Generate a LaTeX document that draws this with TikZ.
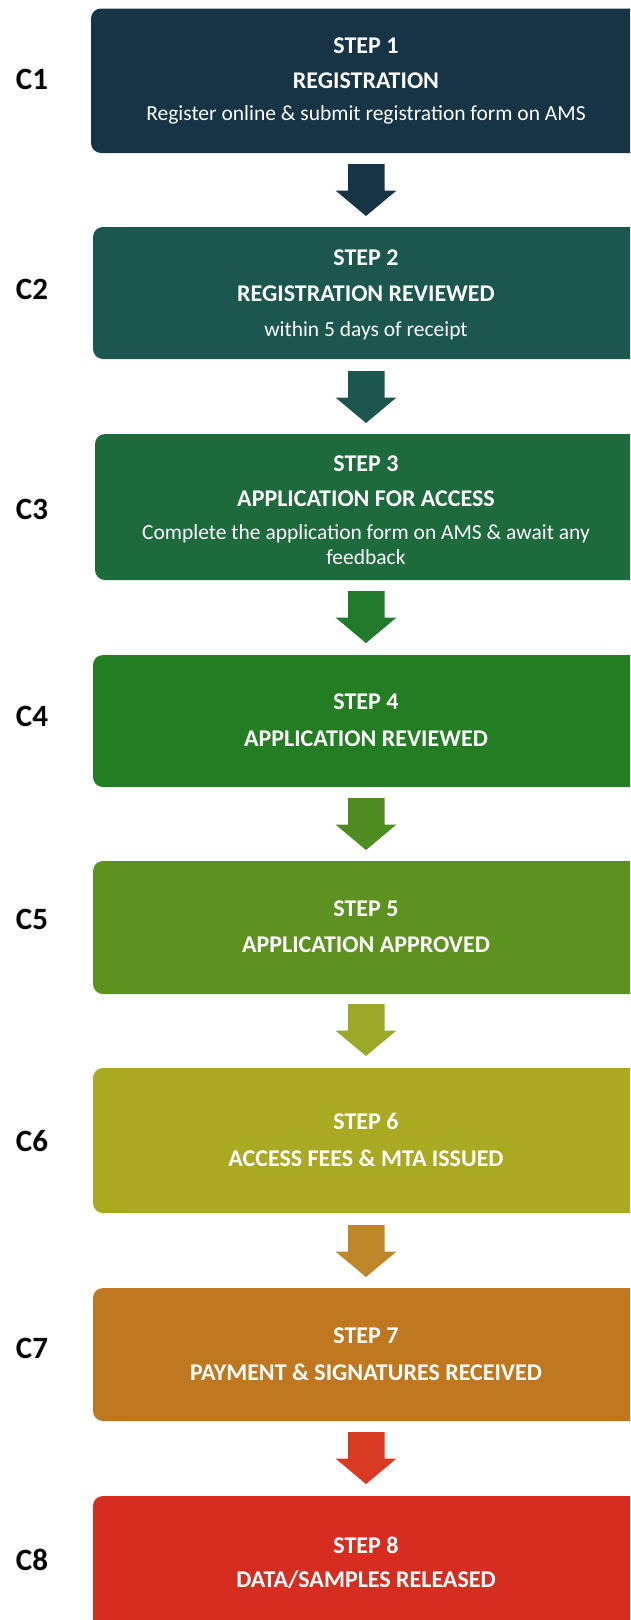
\documentclass[tikz,border=0pt]{standalone}
\usepackage{fontspec}
\setmainfont{Carlito}
\definecolor{c1}{HTML}{173446}
\definecolor{c2}{HTML}{1B574F}
\definecolor{c3}{HTML}{1D6A3D}
\definecolor{c4}{HTML}{237D22}
\definecolor{c5}{HTML}{5E9220}
\definecolor{c6}{HTML}{A9A922}
\definecolor{c7}{HTML}{C07820}
\definecolor{c8}{HTML}{D62D20}
\definecolor{a3}{HTML}{217A2C}
\definecolor{a4}{HTML}{4E8C22}
\definecolor{a5}{HTML}{9AAA28}
\definecolor{a6}{HTML}{C0872A}
\definecolor{a7}{HTML}{D93A22}
\tikzset{
  stepbox/.style={rounded corners=10pt},
  steptitle/.style={text=white, font=\fontsize{24}{28}\selectfont\bfseries, anchor=center, inner sep=0pt},
  stepsub/.style={text=white, font=\fontsize{21.5}{25}\selectfont, anchor=center, inner sep=0pt},
  clabel/.style={text=black, font=\fontsize{31}{36}\selectfont\bfseries, anchor=center, inner sep=0pt},
}
\newcommand{\flowarrow}[3]{% color, top y, name
  \fill[#1] (348,-#2) -- (384.5,-#2) -- (384.5,-#2-26.5) -- (396.5,-#2-26.5)
    -- (366,-#2-52) -- (335.5,-#2-26.5) -- (348,-#2-26.5) -- cycle;
  \coordinate (#3) at (366,-#2);
}
\begin{document}
\begin{tikzpicture}[x=1pt,y=1pt]
\useasboundingbox (0,0) rectangle (630,-1620);
\clip (0,0) rectangle (630,-1620);
% boxes
\fill[c1,stepbox] (91,-8.5) rectangle (660,-153);
\fill[c2,stepbox] (93,-227) rectangle (660,-359);
\fill[c3,stepbox] (95,-434) rectangle (660,-580);
\fill[c4,stepbox] (93,-655) rectangle (660,-787);
\fill[c5,stepbox] (93,-861) rectangle (660,-994);
\fill[c6,stepbox] (93,-1068) rectangle (660,-1213);
\fill[c7,stepbox] (93,-1288) rectangle (660,-1421);
\fill[c8,stepbox] (93,-1496) rectangle (660,-1660);
% arrows
\flowarrow{c1}{164}{ar1}
\flowarrow{c2}{371}{ar2}
\flowarrow{a3}{591}{ar3}
\flowarrow{a4}{798}{ar4}
\flowarrow{a5}{1004}{ar5}
\flowarrow{a6}{1225}{ar6}
\flowarrow{a7}{1432}{ar7}
% texts
\node[steptitle] (s1a) at (366,-46) {STEP 1};
\node[steptitle] (s1b) at (366,-81) {REGISTRATION};
\node[stepsub] (s1c) at (366,-115) {Register online \& submit registration form on AMS};
\node[steptitle] (s2a) at (366,-258) {STEP 2};
\node[steptitle] (s2b) at (366,-294) {REGISTRATION REVIEWED};
\node[stepsub] (s2c) at (366,-331) {within 5 days of receipt};
\node[steptitle] (s3a) at (366,-464) {STEP 3};
\node[steptitle] (s3b) at (366,-499) {APPLICATION FOR ACCESS};
\node[stepsub] (s3c) at (366,-534) {Complete the application form on AMS \& await any};
\node[stepsub] (s3d) at (366,-557) {feedback};
\node[steptitle] (s4a) at (366,-702) {STEP 4};
\node[steptitle] (s4b) at (366,-739) {APPLICATION REVIEWED};
\node[steptitle] (s5a) at (366,-909) {STEP 5};
\node[steptitle] (s5b) at (366,-945) {APPLICATION APPROVED};
\node[steptitle] (s6a) at (366,-1121) {STEP 6};
\node[steptitle] (s6b) at (366,-1158) {ACCESS FEES \& MTA ISSUED};
\node[steptitle] (s7a) at (366,-1336) {STEP 7};
\node[steptitle] (s7b) at (366,-1372) {PAYMENT \& SIGNATURES RECEIVED};
\node[steptitle] (s8a) at (366,-1545) {STEP 8};
\node[steptitle] (s8b) at (366,-1580) {DATA/SAMPLES RELEASED};
% side labels
\node[clabel] (l1) at (32,-79) {C1};
\node[clabel] (l2) at (32,-289) {C2};
\node[clabel] (l3) at (32,-509) {C3};
\node[clabel] (l4) at (32,-716) {C4};
\node[clabel] (l5) at (32,-919) {C5};
\node[clabel] (l6) at (32,-1141) {C6};
\node[clabel] (l7) at (32,-1348) {C7};
\node[clabel] (l8) at (32,-1560) {C8};
\end{tikzpicture}
\end{document}
